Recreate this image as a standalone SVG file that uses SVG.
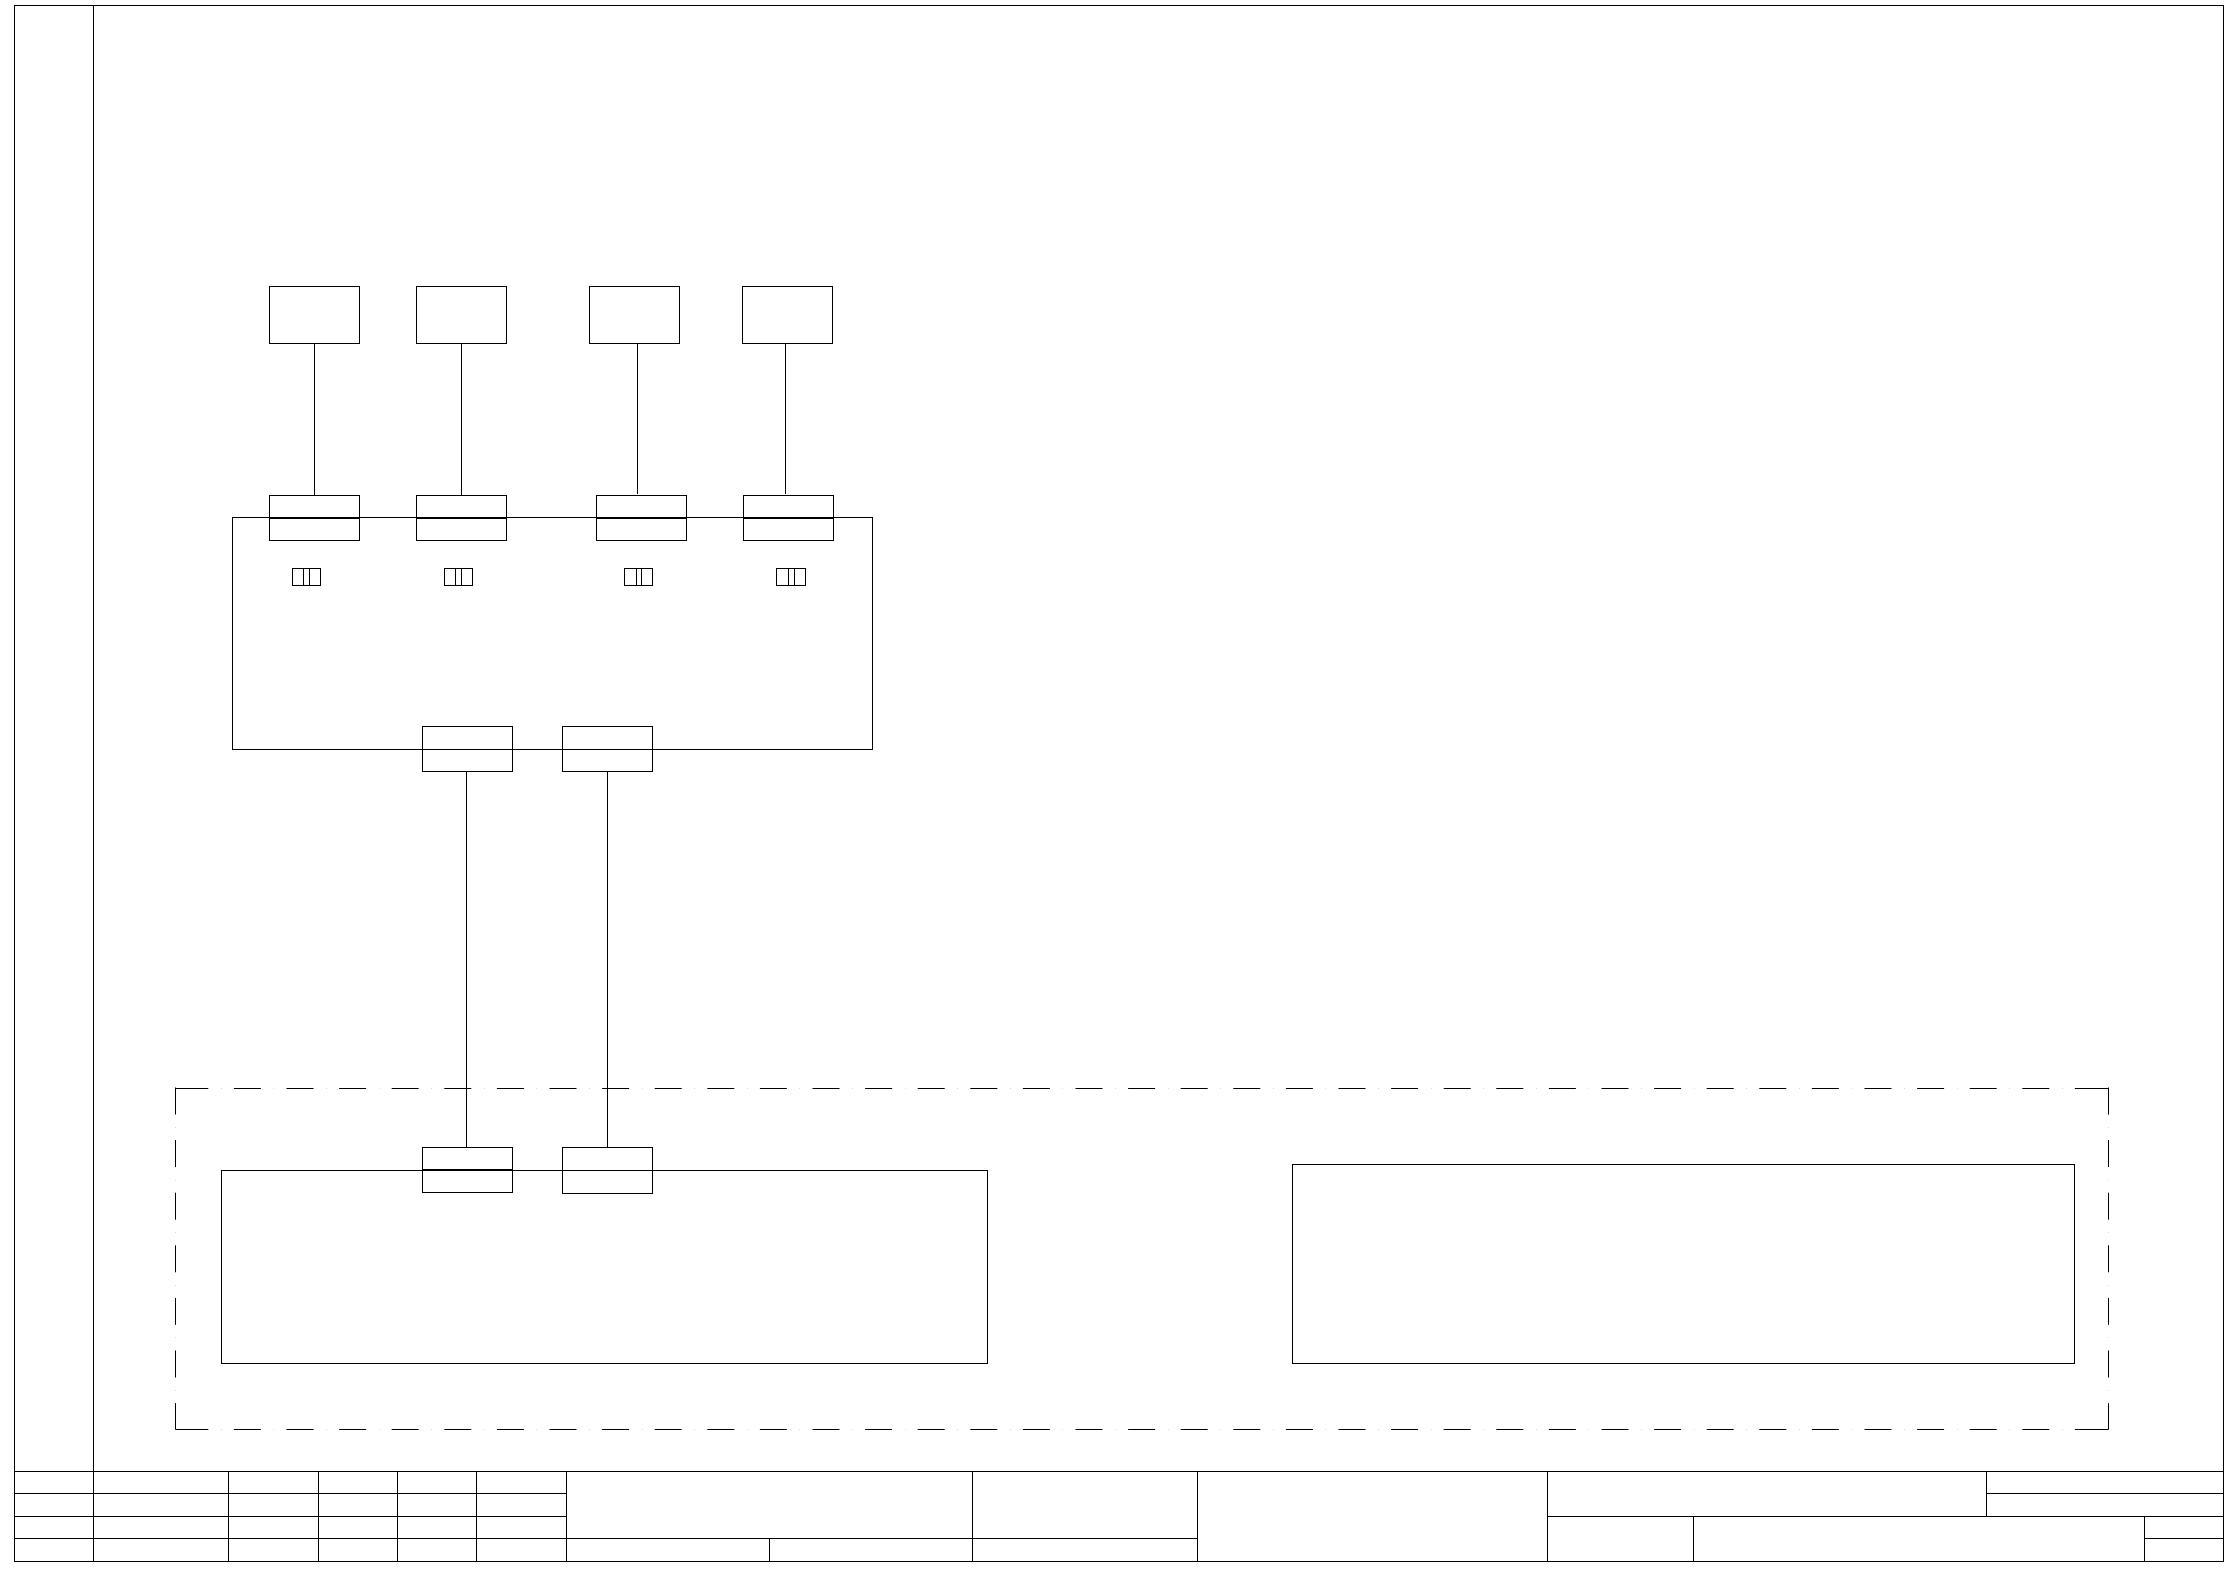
<svg xmlns="http://www.w3.org/2000/svg" width="2234" height="1569" viewBox="0 0 2234 1569">
<style>
rect,path,line{fill:none;stroke:#000;stroke-width:1}
.heavy{stroke-width:2}
.dash{stroke-dasharray:27 12.9 .15 12.55}
</style>
<rect x="0" y="0" width="2234" height="1569" style="fill:#fff;stroke:none"/>
<g id="frame">
<rect x="14.5" y="5.5" width="2209" height="1556"/>
<path d="M93.5 5.5V1561.5"/>
</g>
<g id="title-block">
<path d="M14.5 1471.5H2223.5M14.5 1493.5H566.5M14.5 1516.5H566.5M14.5 1538.5H1197.5"/>
<path d="M228.5 1471.5V1561.5M318.5 1471.5V1561.5M397.5 1471.5V1561.5M476.5 1471.5V1561.5M566.5 1471.5V1561.5M769.5 1538.5V1561.5M972.5 1471.5V1561.5M1197.5 1471.5V1561.5M1547.5 1471.5V1561.5"/>
<path d="M1547.5 1516.5H2223.5M1986.5 1493.5H2223.5M2144.5 1538.5H2223.5M1986.5 1471.5V1516.5M1693.5 1516.5V1561.5M2144.5 1516.5V1561.5"/>
</g>
<g id="connectors">
<path d="M314.5 343.5V495.5M461.5 343.5V495.5M637.5 343.5V494M785.5 343.5V494"/>
<path d="M466.5 771.5V1147.5M607.5 771.5V1147.5"/>
</g>
<g id="container-upper"><rect x="232.5" y="517.5" width="640" height="232"/></g>
<g id="container-lower-left"><rect x="221.5" y="1170.5" width="766" height="193"/></g>
<g id="container-lower-right"><rect x="1292.5" y="1164.5" width="782" height="199"/></g>
<g id="boundary">
<path class="dash" d="M181.3 1088.5H2102M181.3 1429.5H2102"/>
<path d="M175.5 1088.5H208M175.5 1429.5H208M2075 1088.5H2108.5M2075 1429.5H2108.5"/>
<path class="dash" d="M175.5 1087.5V1429.5M2108.5 1087.5V1429.5"/>
</g>
<g id="node-top-1"><rect x="269.5" y="286.5" width="90" height="57"/></g>
<g id="node-top-2"><rect x="416.5" y="286.5" width="90" height="57"/></g>
<g id="node-top-3"><rect x="589.5" y="286.5" width="90" height="57"/></g>
<g id="node-top-4"><rect x="742.5" y="286.5" width="90" height="57"/></g>
<g id="port-1"><rect x="269.5" y="495.5" width="90" height="45"/><line class="heavy" x1="269.5" y1="518" x2="359.5" y2="518"/></g>
<g id="port-2"><rect x="416.5" y="495.5" width="90" height="45"/><line class="heavy" x1="416.5" y1="518" x2="506.5" y2="518"/></g>
<g id="port-3"><rect x="596.5" y="495.5" width="90" height="45"/><line class="heavy" x1="596.5" y1="518" x2="686.5" y2="518"/></g>
<g id="port-4"><rect x="743.5" y="495.5" width="90" height="45"/><line class="heavy" x1="743.5" y1="518" x2="833.5" y2="518"/></g>
<g id="mark-1"><rect x="292.5" y="568.5" width="28" height="17"/><path d="M303.5 568.5V585.5M309.5 568.5V585.5"/></g>
<g id="mark-2"><rect x="444.5" y="568.5" width="28" height="17"/><path d="M455.5 568.5V585.5M461.5 568.5V585.5"/></g>
<g id="mark-3"><rect x="624.5" y="568.5" width="28" height="17"/><path d="M636.5 568.5V585.5M641.5 568.5V585.5"/></g>
<g id="mark-4"><rect x="776.5" y="568.5" width="29" height="17"/><path d="M788.5 568.5V585.5M794.5 568.5V585.5"/></g>
<g id="port-5"><rect x="422.5" y="726.5" width="90" height="45"/></g>
<g id="port-6"><rect x="562.5" y="726.5" width="90" height="45"/></g>
<g id="port-7"><rect x="422.5" y="1147.5" width="90" height="45"/><line class="heavy" x1="422.5" y1="1170" x2="512.5" y2="1170"/></g>
<g id="port-8"><rect x="562.5" y="1147.5" width="90" height="46"/></g>
</svg>
